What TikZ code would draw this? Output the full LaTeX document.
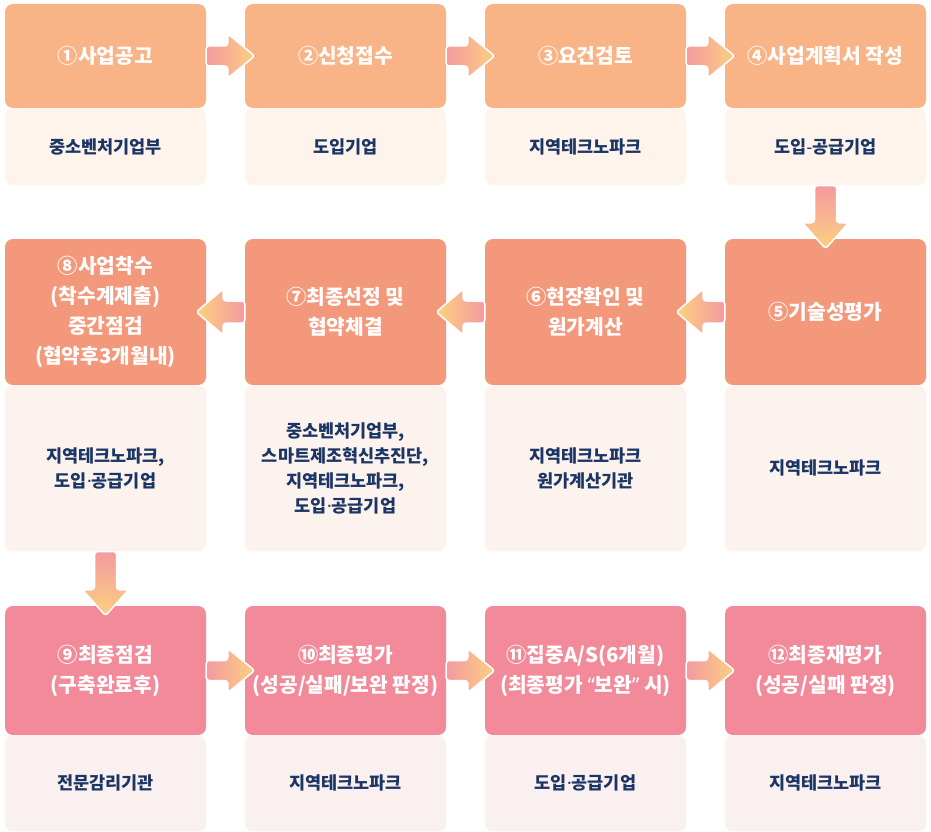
\documentclass[tikz,border=0pt]{standalone}
\usepackage{fontspec}
\setmainfont{Noto Sans CJK KR}
\newfontfamily\latinfont{Noto Sans}
\usepackage{xcolor}
\usetikzlibrary{calc}
\usetikzlibrary{positioning}

\definecolor{stepA}{HTML}{F8B386}
\definecolor{orgA}{HTML}{FEF4EC}
\definecolor{stepB}{HTML}{F4987B}
\definecolor{orgB}{HTML}{FCF2EE}
\definecolor{stepC}{HTML}{F28A9A}
\definecolor{orgC}{HTML}{FBF0F0}
\definecolor{orgtext}{HTML}{1B3664}
\definecolor{flowpink}{HTML}{F49AA0}
\definecolor{flowyellow}{HTML}{FDD080}

% narrow dot, hyphen and quotes
\newcommand{\mdot}{{\latinfont ·}}
\newcommand{\mhyph}{{\latinfont -}}
\newcommand{\lquo}{{\latinfont “}}
\newcommand{\rquo}{{\latinfont ”}}

% block arrows: tail on the edge of #1, tip a little inside #2
\newcommand{\flowR}[2]{%
\path[flow, left color=flowpink, right color=flowyellow]
  ($(#1.east)+(0,-10)$) -- ($(#2.west)+(-17,-10)$) -- ($(#2.west)+(-17,-22)$) -- ($(#2.west)+(10,0)$)
  -- ($(#2.west)+(-17,22)$) -- ($(#2.west)+(-17,10)$) -- ($(#1.east)+(0,10)$) -- cycle;}
\newcommand{\flowL}[2]{%
\path[flow, left color=flowyellow, right color=flowpink]
  ($(#1.west)+(0,-11)$) -- ($(#2.east)+(17,-11)$) -- ($(#2.east)+(17,-23)$) -- ($(#2.east)+(-10,0)$)
  -- ($(#2.east)+(17,23)$) -- ($(#2.east)+(17,11)$) -- ($(#1.west)+(0,11)$) -- cycle;}
\newcommand{\flowD}[2]{%
\path[flow, top color=flowpink, bottom color=flowyellow]
  ($(#1.south)+(-11,0)$) -- ($(#2.north)+(-11,-16)$) -- ($(#2.north)+(-23,-16)$) -- ($(#2.north)+(0,10)$)
  -- ($(#2.north)+(23,-16)$) -- ($(#2.north)+(11,-16)$) -- ($(#1.south)+(11,0)$) -- cycle;}

\begin{document}
\begin{tikzpicture}[
                 x=1pt, y=-1pt,
                 stepbox/.style={rounded corners=8pt, minimum width=201pt, inner sep=0pt,
                   align=center, text=white, font=\bfseries\fontsize{20.3}{30}\selectfont},
                 orgbox/.style={rounded corners=8pt, minimum width=201pt, inner sep=0pt,
                   align=center, text=orgtext, font=\bfseries\fontsize{17.5}{25}\selectfont},
                 rowA/.style={stepbox, fill=stepA, minimum height=104pt},
                 rowB/.style={stepbox, fill=stepB, minimum height=146pt},
                 rowC/.style={stepbox, fill=stepC, minimum height=129pt},
                 flow/.style={draw=white, line width=1.5pt, rounded corners=3pt}
                 ]
\useasboundingbox (0,0) rectangle (931,832);
%
\node[rowA] (s1) at (105.5,56) {①사업공고};
\node[rowA] (s2) at (345.5,56) {②신청접수};
\node[rowA] (s3) at (585.5,56) {③요건검토};
\node[rowA] (s4) at (825.5,56) {④사업계획서 작성};
\node[orgbox, fill=orgA, minimum height=77pt, below=0pt of s1] (o1) {중소벤처기업부};
\node[orgbox, fill=orgA, minimum height=77pt, below=0pt of s2] (o2) {도입기업};
\node[orgbox, fill=orgA, minimum height=77pt, below=0pt of s3] (o3) {지역테크노파크};
\node[orgbox, fill=orgA, minimum height=77pt, below=0pt of s4] (o4) {도입\mhyph 공급기업};
%
\node[rowB] (s5) at (825.5,312) {⑤기술성평가};
\node[rowB] (s6) at (585.5,312) {⑥현장확인 및\\원가계산};
\node[rowB] (s7) at (345.5,312) {⑦최종선정 및\\협약체결};
\node[rowB] (s8) at (105.5,312) {⑧사업착수\\(착수계제출)\\중간점검\\(협약후3개월내)};
\node[orgbox, fill=orgB, minimum height=166pt, below=0pt of s5] (o5) {지역테크노파크};
\node[orgbox, fill=orgB, minimum height=166pt, below=0pt of s6] (o6) {지역테크노파크\\원가계산기관};
\node[orgbox, fill=orgB, minimum height=166pt, below=0pt of s7] (o7) {중소벤처기업부,\\스마트제조혁신추진단,\\지역테크노파크,\\도입\mdot 공급기업};
\node[orgbox, fill=orgB, minimum height=166pt, below=0pt of s8] (o8) {지역테크노파크,\\도입\mdot 공급기업};
%
\node[rowC] (s9) at (105.5,670.5) {⑨최종점검\\(구축완료후)};
\node[rowC] (s10) at (345.5,670.5) {⑩최종평가\\(성공/실패/보완 판정)};
\node[rowC] (s11) at (585.5,670.5) {⑪집중A/S(6개월)\\(최종평가 \lquo 보완\rquo\ 시)};
\node[rowC] (s12) at (825.5,670.5) {⑫최종재평가\\(성공/실패 판정)};
\node[orgbox, fill=orgC, minimum height=96pt, below=0pt of s9] (o9) {전문감리기관};
\node[orgbox, fill=orgC, minimum height=96pt, below=0pt of s10] (o10) {지역테크노파크};
\node[orgbox, fill=orgC, minimum height=96pt, below=0pt of s11] (o11) {도입\mdot 공급기업};
\node[orgbox, fill=orgC, minimum height=96pt, below=0pt of s12] (o12) {지역테크노파크};
%
\flowR{s1}{s2}
\flowR{s2}{s3}
\flowR{s3}{s4}
\flowD{o4}{s5}
\flowL{s5}{s6}
\flowL{s6}{s7}
\flowL{s7}{s8}
\flowD{o8}{s9}
\flowR{s9}{s10}
\flowR{s10}{s11}
\flowR{s11}{s12}
\end{tikzpicture}
\end{document}
